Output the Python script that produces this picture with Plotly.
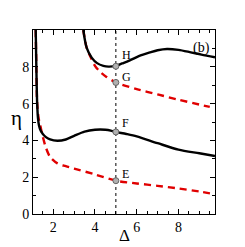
import plotly.graph_objects as go

# lower branch (solid black)
x_low_solid = [1.16, 1.19, 1.23, 1.27, 1.32, 1.4, 1.5, 1.65, 1.85, 2.2, 2.6, 3.0, 3.5, 4.0, 4.5, 4.8, 5.0, 5.5, 6.0, 7.0, 8.0, 9.0, 9.75]
y_low_solid = [10.0, 8.0, 6.0, 5.2, 4.8, 4.52, 4.35, 4.18, 4.05, 3.98, 4.05, 4.25, 4.48, 4.58, 4.58, 4.52, 4.46, 4.35, 4.22, 3.85, 3.5, 3.3, 3.15]

# lower branch (red dashed)
x_low_dash = [1.16, 1.19, 1.23, 1.3, 1.36, 1.5, 1.65, 1.85, 2.2, 2.6, 3.0, 4.0, 5.0, 6.0, 7.0, 8.0, 9.0, 9.75]
y_low_dash = [10.0, 8.0, 6.0, 5.2, 4.9, 4.2, 3.6, 3.1, 2.75, 2.6, 2.47, 2.15, 1.81, 1.66, 1.53, 1.39, 1.22, 1.07]

# upper branch (solid black)
x_up_solid = [3.44, 3.6, 3.84, 4.1, 4.4, 4.65, 5.0, 5.3, 5.67, 6.1, 6.63, 7.0, 7.45, 8.0, 8.54, 9.1, 9.75]
y_up_solid = [10.0, 9.04, 8.5, 8.2, 8.05, 8.01, 8.05, 8.18, 8.35, 8.58, 8.78, 8.9, 8.97, 8.92, 8.8, 8.66, 8.52]

# upper branch (red dashed)
x_up_dash = [3.44, 3.6, 3.76, 4.0, 4.25, 4.55, 5.0, 6.0, 7.0, 8.0, 9.0, 9.5]
y_up_dash = [10.0, 9.04, 8.6, 8.05, 7.72, 7.45, 7.15, 6.79, 6.5, 6.21, 5.95, 5.82]

# marked points at Delta = 5
pt_x = [5, 5, 5, 5]
pt_y = [1.81, 4.46, 7.15, 8.03]
pt_labels = ["E", "F", "G", "H"]
label_y = [2.18, 4.94, 7.47, 8.65]

x_ticks = [2, 4, 6, 8]
y_ticks = [0, 2, 4, 6, 8]

serif = "Liberation Serif"
fig = go.Figure()

fig.add_trace(go.Scatter(x=[5, 5], y=[0, 10], mode="lines",
                         line=dict(color="black", width=1, dash="dot"), hoverinfo="skip"))

for xs, ys in [(x_low_dash, y_low_dash), (x_up_dash, y_up_dash)]:
    fig.add_trace(go.Scatter(x=xs, y=ys, mode="lines", line_shape="spline",
                             line=dict(color="#e00000", width=2.4, dash="7px,5px", smoothing=0.8)))
for xs, ys in [(x_low_solid, y_low_solid), (x_up_solid, y_up_solid)]:
    fig.add_trace(go.Scatter(x=xs, y=ys, mode="lines", line_shape="spline",
                             line=dict(color="black", width=2.4, smoothing=0.8)))

fig.add_trace(go.Scatter(x=pt_x, y=pt_y, mode="markers",
                         marker=dict(size=6, color="#b0b0b0", line=dict(color="#666666", width=1))))

for lab, ly in zip(pt_labels, label_y):
    fig.add_annotation(x=5.2, y=ly, text=lab, showarrow=False, xanchor="left",
                       font=dict(family=serif, size=12, color="black"))

fig.add_annotation(xref="paper", yref="paper", x=0.985, y=0.955, text="(b)", showarrow=False,
                   xanchor="right", yanchor="top", font=dict(family=serif, size=14, color="black"))
fig.add_annotation(xref="paper", yref="paper", x=-0.088, y=0.52, text="η", showarrow=False,
                   xanchor="center", yanchor="middle", font=dict(family=serif, size=21, color="black"))
fig.add_annotation(xref="paper", yref="paper", x=0.5, y=-0.115, text="Δ", showarrow=False,
                   xanchor="center", yanchor="middle", font=dict(family=serif, size=17, color="black"))

axis_common = dict(showgrid=False, zeroline=False, showline=True, linecolor="black", linewidth=1,
                   mirror="allticks", ticks="inside", ticklen=5, tickwidth=1, tickcolor="black",
                   tickfont=dict(family=serif, size=14, color="black"))

fig.update_xaxes(range=[1.03, 9.75], tickvals=x_ticks, ticktext=[str(v) for v in x_ticks],
                 minor=dict(dtick=0.5, tick0=0, ticks="inside", ticklen=3, tickcolor="black"),
                 **axis_common)
fig.update_yaxes(range=[0, 10], tickvals=y_ticks, ticktext=[str(v) for v in y_ticks],
                 minor=dict(dtick=1, tick0=0, ticks="inside", ticklen=3, tickcolor="black"),
                 **axis_common)

fig.update_layout(width=245, height=247, margin=dict(l=33, r=30, t=30, b=29),
                  plot_bgcolor="white", paper_bgcolor="white", showlegend=False)

fig.write_html("out.html", config={"displayModeBar": False},
               post_script="document.body.style.margin='0';document.body.style.overflow='hidden';")
